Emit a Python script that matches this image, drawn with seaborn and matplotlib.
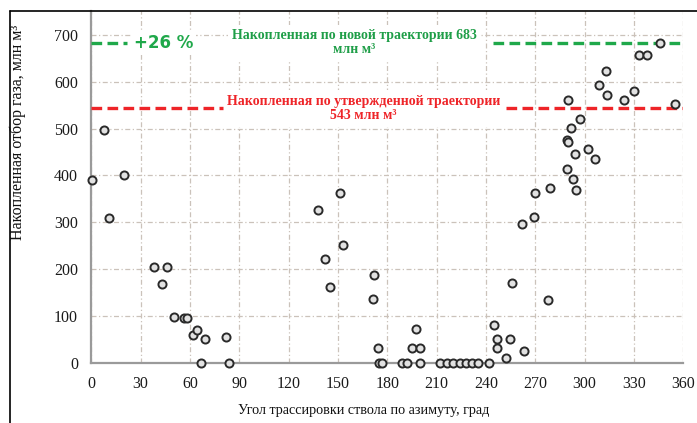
import numpy as np
import pandas as pd
import matplotlib
matplotlib.use("Agg")
import matplotlib.pyplot as plt
from matplotlib.lines import Line2D
import seaborn as sns

# ---- data ----
azimuth = [0.5, 8, 11, 20, 38, 43, 46, 50, 56.5, 58, 61.7, 64.3, 67, 69.2, 82, 84,
           138, 142, 145, 151.5, 153, 171, 172, 174.3, 175, 176.5, 189, 192, 194.8,
           197.2, 200, 200, 211.9, 216, 219.7, 224, 227.9, 231.5, 235.2, 241.6,
           244.8, 247, 247, 252, 254.5, 256, 262, 263, 269, 270, 278, 279,
           289, 289, 290, 290, 292, 293, 294, 295, 297, 302, 306, 309, 313, 313.3,
           324, 330, 333, 338, 346, 355]
production = [390, 497, 308, 400, 205, 167, 205, 97, 96, 96, 60, 70, 0, 50, 55, 0,
              327, 222, 162, 362, 251, 135, 188, 31, 0, 0, 0, 0, 31,
              71, 31, 0, 0, 0, 0, 0, 0, 0, 0, 0,
              80, 51, 31, 11, 51, 170, 297, 25, 311, 362, 133, 373,
              413, 476, 471, 560, 502, 392, 445, 369, 521, 457, 436, 594, 623, 572,
              561, 581, 657, 657, 682, 552]
new_total = 683
approved_total = 543
x_ticks = [0, 30, 60, 90, 120, 150, 180, 210, 240, 270, 300, 330, 360]
y_ticks = [0, 100, 200, 300, 400, 500, 600, 700]

df = pd.DataFrame({"azimuth": azimuth, "production": production})

sns.set_style("white")
plt.rcParams['font.family'] = ['Liberation Serif', 'DejaVu Serif']

fig = plt.figure(figsize=(6.97, 4.23), dpi=100)
W, H = 697, 423
ax = fig.add_axes([91.3 / W, (H - 362.7) / H, (683.3 - 91.3) / W, (362.7 - 11) / H])

grid_color = '#cbc2ba'
ax.set_xlim(0, 360)
ax.set_ylim(0, 751)
ax.set_xticks(x_ticks)
ax.set_yticks(y_ticks)
ax.grid(True, linestyle=(0, (4, 2, 1, 2)), color=grid_color, linewidth=0.9)
ax.set_axisbelow(True)

for s in ['top', 'right']:
    ax.spines[s].set_visible(False)
for s in ['left', 'bottom']:
    ax.spines[s].set_color('#9a9a9a')
    ax.spines[s].set_linewidth(1.6)
ax.tick_params(axis='both', length=4, color='#b0a8a0', labelsize=11.5, pad=5.5,
               labelcolor='#1a1a1a')

# reference lines
green = '#1fa84a'
red = '#ee2428'
ax.hlines(new_total, 0, 22, colors=green, linewidth=2.4, linestyles=(0, (3.2, 1.6)), zorder=3)
ax.hlines(new_total, 244, 360, colors=green, linewidth=2.4, linestyles=(0, (3.2, 1.6)), zorder=3)
ax.hlines(approved_total, 0, 80, colors=red, linewidth=2.4, linestyles=(0, (3.2, 1.6)), zorder=3)
ax.hlines(approved_total, 252, 360, colors=red, linewidth=2.4, linestyles=(0, (3.2, 1.6)), zorder=3)

sns.scatterplot(data=df, x="azimuth", y="production", ax=ax, s=34,
                facecolor='#e2e2e2', edgecolor='#2a2a2a', linewidth=1.4,
                zorder=4, clip_on=False, legend=False)

ax.set_xlabel("")
ax.set_ylabel("")

ax.text(44, new_total, "+26 %", ha='center', va='center', fontsize=12,
        fontweight='bold', color=green, family=['DejaVu Sans'],
        bbox=dict(facecolor='white', edgecolor='none', pad=2), zorder=2)
ax.text(160, 684, "Накопленная по новой траектории 683\nмлн м³", ha='center',
        va='center', fontsize=10, fontweight='bold', color='#1f9e48',
        multialignment='center', linespacing=1.05,
        bbox=dict(facecolor='white', edgecolor='none', pad=3), zorder=2)
ax.text(165.5, 543, "Накопленная по утвержденной траектории\n543 млн м³", ha='center',
        va='center', fontsize=10, fontweight='bold', color=red,
        multialignment='center', linespacing=1.05,
        bbox=dict(facecolor='white', edgecolor='none', pad=4), zorder=2)

fig.text(18 / W, (H - 132) / H, "Накопленная отбор газа, млн м³", rotation=90,
         ha='center', va='center', fontsize=11.5, color='#111111')
fig.text(364 / W, (H - 410) / H, "Угол трассировки ствола по азимуту, град",
         ha='center', va='center', fontsize=10.2, color='#111111')

# outer frame
fig.add_artist(Line2D([10 / W, 10 / W], [0, (H - 11) / H], transform=fig.transFigure,
                      color='black', linewidth=1.2))
fig.add_artist(Line2D([10 / W, 1], [(H - 11) / H, (H - 11) / H], transform=fig.transFigure,
                      color='black', linewidth=1.2))

fig.savefig("out.png", dpi=100)
